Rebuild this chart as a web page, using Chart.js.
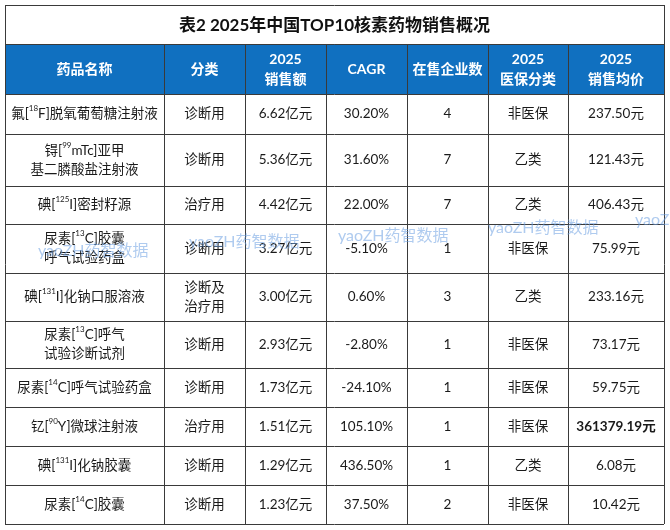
<!DOCTYPE html>
<html lang="zh">
<head>
<meta charset="UTF-8">
<title>表2 2025年中国TOP10核素药物销售概况</title>
<style>
  body { margin: 0; background: #fff; }
  #wrap { width: 670px; height: 530px; }
</style>
</head>
<body>
<div id="wrap"><canvas id="table" width="670" height="530"></canvas></div>
<script src="https://cdn.jsdelivr.net/npm/chart.js"></script>
<script>
// 数据 (^..^ = 上标, \n = 换行)
const title = '表2 2025年中国TOP10核素药物销售概况';
const headers = ['药品名称', '分类', '2025\n销售额', 'CAGR', '在售企业数', '2025\n医保分类', '2025\n销售均价'];
const drugNames = [
  '氟[^18^F]脱氧葡萄糖注射液',
  '锝[^99^mTc]亚甲\n基二膦酸盐注射液',
  '碘[^125^I]密封籽源',
  '尿素[^13^C]胶囊\n呼气试验药盒',
  '碘[^131^I]化钠口服溶液',
  '尿素[^13^C]呼气\n试验诊断试剂',
  '尿素[^14^C]呼气试验药盒',
  '钇[^90^Y]微球注射液',
  '碘[^131^I]化钠胶囊',
  '尿素[^14^C]胶囊'
];
const usage = ['诊断用', '诊断用', '治疗用', '诊断用', '诊断及\n治疗用', '诊断用', '诊断用', '治疗用', '诊断用', '诊断用'];
const sales2025 = [6.62, 5.36, 4.42, 3.27, 3.00, 2.93, 1.73, 1.51, 1.29, 1.23]; // 亿元
const cagr = [30.20, 31.60, 22.00, -5.10, 0.60, -2.80, -24.10, 105.10, 436.50, 37.50]; // %
const companies = [4, 7, 7, 1, 3, 1, 1, 1, 1, 2];
const insurance = ['非医保', '乙类', '乙类', '非医保', '乙类', '非医保', '非医保', '非医保', '乙类', '非医保'];
const avgPrice = [237.50, 121.43, 406.43, 75.99, 233.16, 73.17, 59.75, 361379.19, 6.08, 10.42]; // 元

// 版式
const colWidths = [159, 81, 81, 81, 81, 80, 96];
const titleHeight = 39;
const headerHeight = 50;
const rowHeights = [40, 52, 38, 49, 48, 47, 39, 39, 39, 39];
const boldCells = [[7, 6]];
const watermarks = [[38, 251], [189, 242], [338, 236], [488, 228], [635, 220]];

const FONT = 'Lato, "Noto Sans CJK SC", sans-serif';
const tableW = colWidths.reduce((a, b) => a + b, 0);
const tableH = titleHeight + headerHeight + rowHeights.reduce((a, b) => a + b, 0);

const colEdges = [0];
colWidths.forEach(w => colEdges.push(colEdges[colEdges.length - 1] + w));
const rowEdges = [0, titleHeight, titleHeight + headerHeight];
rowHeights.forEach(h => rowEdges.push(rowEdges[rowEdges.length - 1] + h));

const rows = drugNames.map((name, i) => [
  name,
  usage[i],
  sales2025[i].toFixed(2) + '亿元',
  cagr[i].toFixed(2) + '%',
  String(companies[i]),
  insurance[i],
  avgPrice[i].toFixed(2) + '元'
]);

function parseRich(line) {
  const parts = [];
  line.split(/(\^[^^]*\^)/).forEach(s => {
    if (!s) return;
    if (s[0] === '^') parts.push({ text: s.slice(1, -1), sup: true });
    else parts.push({ text: s, sup: false });
  });
  return parts;
}

function drawRich(ctx, text, cx, cy, opts) {
  const lines = text.split('\n');
  const lh = opts.lineHeight;
  const y0 = cy - (lines.length - 1) * lh / 2;
  lines.forEach((line, li) => {
    const parts = parseRich(line);
    const mainFont = `${opts.weight} ${opts.size}px ${FONT}`;
    const supFont = `${opts.weight} ${Math.round(opts.size * 0.6)}px ${FONT}`;
    let total = 0;
    parts.forEach(p => {
      ctx.font = p.sup ? supFont : mainFont;
      p.w = ctx.measureText(p.text).width;
      total += p.w;
    });
    let x = cx - total / 2;
    const y = y0 + li * lh;
    parts.forEach(p => {
      ctx.font = p.sup ? supFont : mainFont;
      ctx.fillText(p.text, x, p.sup ? y - opts.size * 0.38 : y);
      x += p.w;
    });
  });
}

const tablePlugin = {
  id: 'tablePlugin',
  afterDraw(chart) {
    const { ctx, scales: { x, y } } = chart;
    const px = v => x.getPixelForValue(v);
    const py = v => y.getPixelForValue(v);
    ctx.save();
    ctx.textBaseline = 'middle';
    ctx.textAlign = 'left';

    // 表头底色
    ctx.fillStyle = '#1070c0';
    ctx.fillRect(px(0), py(rowEdges[1]), px(tableW) - px(0), py(rowEdges[2]) - py(rowEdges[1]));

    // 标题
    ctx.fillStyle = '#111';
    drawRich(ctx, title, px(tableW / 2), py(titleHeight / 2) + 1, { size: 17, weight: 'bold', lineHeight: 20 });

    // 表头文字
    ctx.fillStyle = '#fff';
    headers.forEach((h, c) => {
      const cx = px((colEdges[c] + colEdges[c + 1]) / 2);
      const cy = py((rowEdges[1] + rowEdges[2]) / 2);
      drawRich(ctx, h, cx, cy, { size: 14, weight: 'bold', lineHeight: 20 });
    });

    // 单元格
    ctx.fillStyle = '#1a1a1a';
    rows.forEach((row, r) => {
      const cy = py((rowEdges[r + 2] + rowEdges[r + 3]) / 2);
      row.forEach((cell, c) => {
        const cx = px((colEdges[c] + colEdges[c + 1]) / 2);
        const bold = boldCells.some(([br, bc]) => br === r && bc === c);
        drawRich(ctx, cell, cx, cy, { size: 13.5, weight: bold ? 'bold' : 'normal', lineHeight: 19 });
      });
    });

    // 网格线
    ctx.strokeStyle = '#3a3a3a';
    ctx.lineWidth = 1;
    ctx.beginPath();
    rowEdges.forEach(e => {
      const yy = Math.round(py(e)) + 0.5;
      ctx.moveTo(px(0), yy);
      ctx.lineTo(px(tableW), yy);
    });
    colEdges.forEach((e, i) => {
      const xx = Math.round(px(e)) + 0.5;
      ctx.moveTo(xx, py(i === 0 || i === colEdges.length - 1 ? 0 : rowEdges[1]));
      ctx.lineTo(xx, py(tableH));
    });
    ctx.stroke();

    // 水印
    ctx.fillStyle = 'rgba(110, 160, 225, 0.55)';
    ctx.font = `16px ${FONT}`;
    watermarks.forEach(([wx, wy]) => ctx.fillText('yaoZH药智数据', px(wx - 5), py(wy - 5)));
    ctx.restore();
  }
};

new Chart(document.getElementById('table'), {
  type: 'scatter',
  data: { datasets: [{ data: [], pointRadius: 0 }] },
  options: {
    responsive: false,
    animation: false,
    layout: { padding: { left: 5, top: 5, right: 670 - 5 - tableW, bottom: 530 - 5 - tableH } },
    plugins: { legend: { display: false }, tooltip: { enabled: false } },
    scales: {
      x: { type: 'linear', min: 0, max: tableW, display: false },
      y: { type: 'linear', min: 0, max: tableH, reverse: true, display: false }
    }
  },
  plugins: [tablePlugin]
});
</script>
</body>
</html>
